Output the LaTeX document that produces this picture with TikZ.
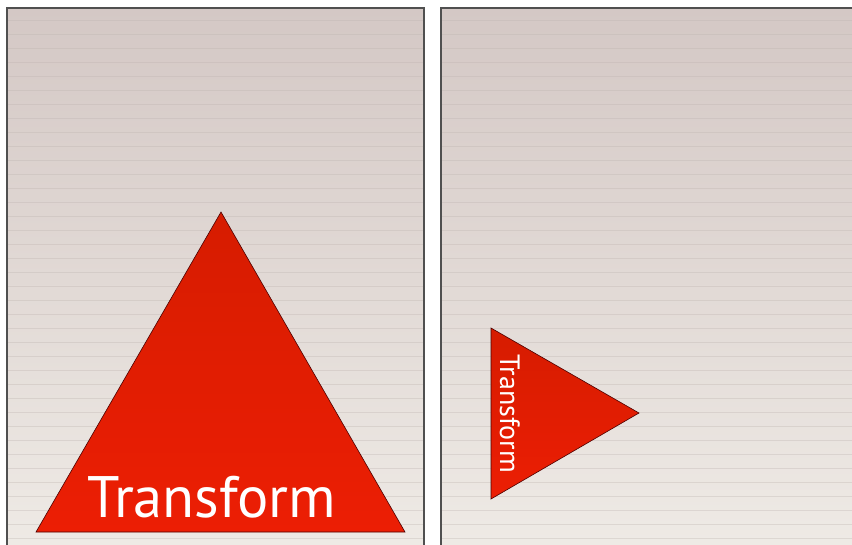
\documentclass[tikz,border=0pt]{standalone}
\usepackage{fontspec}
\setmainfont{PT Sans}
\definecolor{bgtop}{RGB}{212,200,197}
\definecolor{bgbot}{RGB}{239,235,230}
\definecolor{stripe}{RGB}{190,180,176}
\definecolor{redtop}{RGB}{214,28,0}
\definecolor{redbot}{RGB}{236,30,4}
\definecolor{edge}{RGB}{80,80,80}
\tikzset{
  panel/.style={draw=edge, line width=1.3pt, top color=bgtop, bottom color=bgbot},
  tri/.style={draw=black!70!red, line width=0.6pt, top color=redtop, bottom color=redbot},
  label/.style={text=white, inner sep=0pt}
}
\begin{document}
\begin{tikzpicture}[x=1pt,y=-1pt]
\useasboundingbox (0,0) rectangle (852,544);
\fill[white] (0,0) rectangle (852,544);
% panels
\path[panel] (7,8) rectangle (424,560);
\path[panel] (441,8) rectangle (870,560);
% stripes
\foreach \y in {20,34,...,544}{
  \draw[stripe, opacity=0.35, line width=1pt] (8,\y) -- (423,\y);
  \draw[stripe, opacity=0.35, line width=1pt] (442,\y) -- (852,\y);
}
% left triangle
\coordinate (la) at (221,212);
\coordinate (lb) at (36,532);
\coordinate (lc) at (405,532);
\path[tri] (la) -- (lb) -- (lc) -- cycle;
\node[label, font=\fontsize{58.5}{58.5}\selectfont, anchor=base] (lt) at (212,517) {Transform};
% right triangle
\coordinate (ra) at (491,328);
\coordinate (rb) at (491,499);
\coordinate (rc) at (639,413);
\path[tri] (ra) -- (rb) -- (rc) -- cycle;
\node[label, font=\fontsize{28}{28}\selectfont, rotate=-90, anchor=base] (rt) at (500,413.5) {Transform};
\end{tikzpicture}
\end{document}
